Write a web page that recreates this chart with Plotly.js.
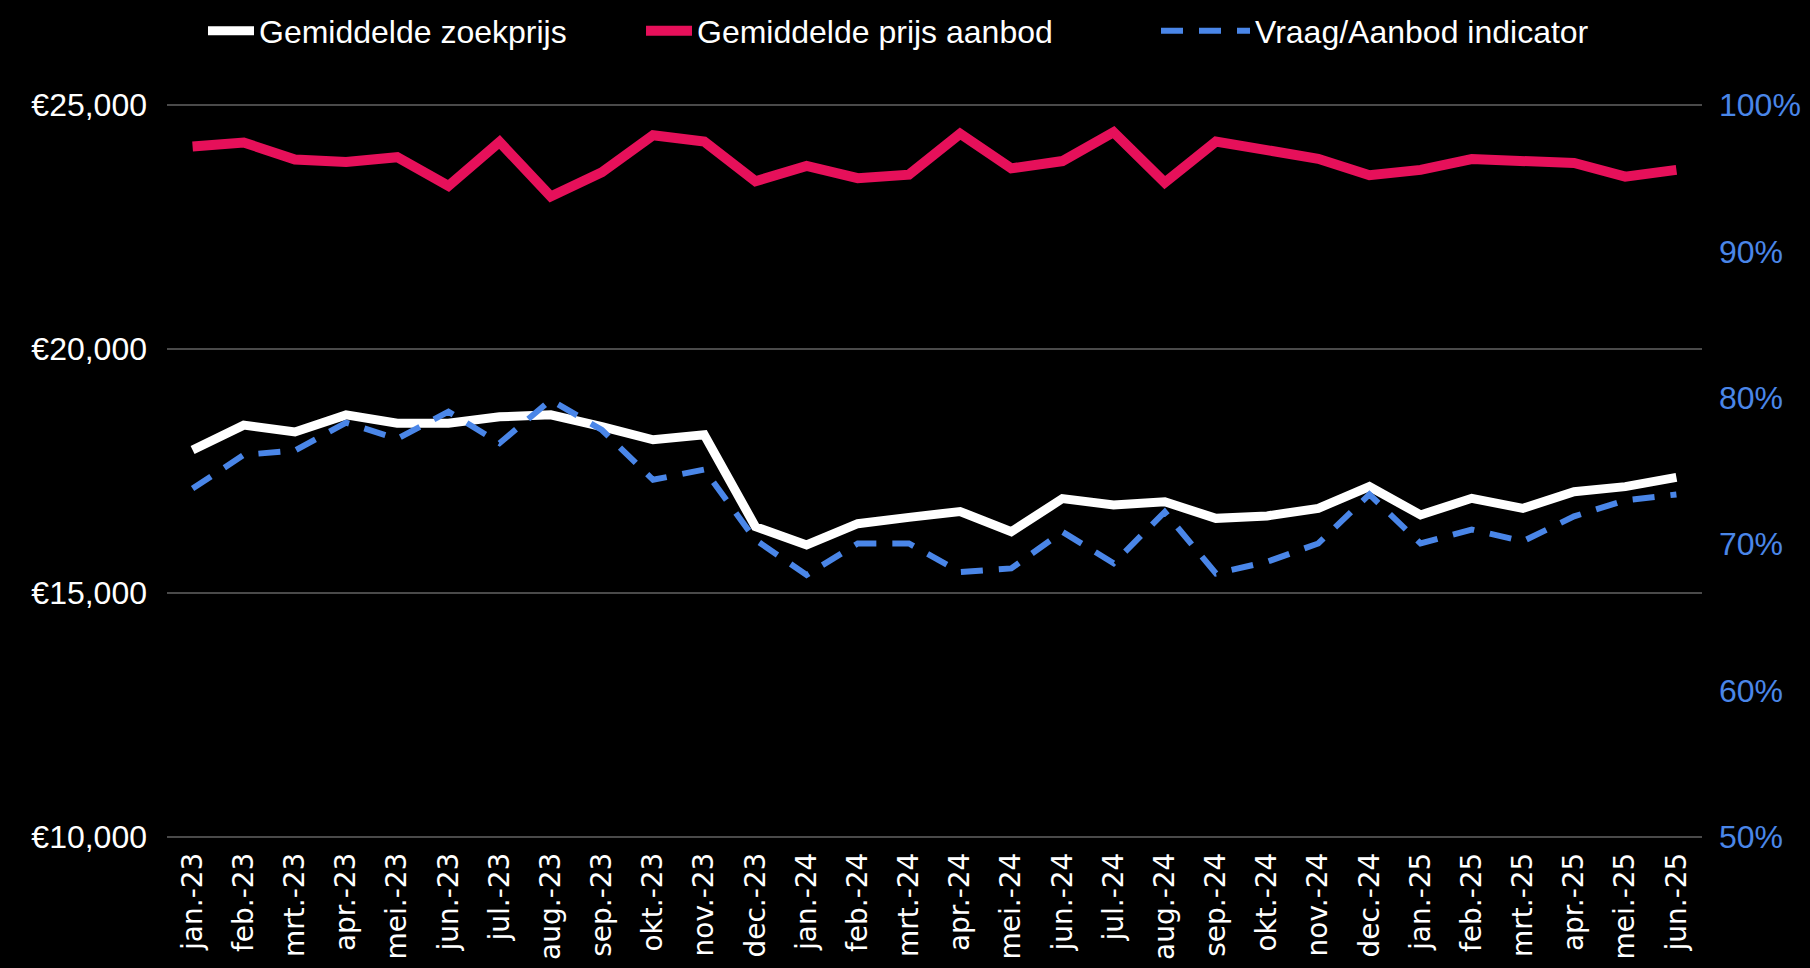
<!DOCTYPE html>
<html>
<head>
<meta charset="utf-8">
<script src="https://cdn.plot.ly/plotly-3.0.1.min.js"></script>
<style>
  html, body { margin: 0; padding: 0; background: #000; }
  #chart { width: 1810px; height: 968px; }
</style>
</head>
<body>
<div id="chart"></div>
<script>
const categories = [
  "jan.-23", "feb.-23", "mrt.-23", "apr.-23", "mei.-23", "jun.-23", "jul.-23", "aug.-23", "sep.-23", "okt.-23", "nov.-23", "dec.-23",
  "jan.-24", "feb.-24", "mrt.-24", "apr.-24", "mei.-24", "jun.-24", "jul.-24", "aug.-24", "sep.-24", "okt.-24", "nov.-24", "dec.-24",
  "jan.-25", "feb.-25", "mrt.-25", "apr.-25", "mei.-25", "jun.-25"
];

const gemiddeldeZoekprijs = [
  17930, 18440, 18300, 18650, 18480, 18480, 18610, 18650, 18410, 18140, 18240, 16360,
  15985, 16420, 16550, 16670, 16255, 16935, 16805, 16870, 16530, 16580, 16735, 17180,
  16600, 16940, 16735, 17075, 17180, 17370
];

const gemiddeldePrijsAanbod = [
  24150, 24230, 23880, 23830, 23930, 23340, 24240, 23125, 23620, 24380, 24250, 23435,
  23750, 23500, 23570, 24410, 23700, 23850, 24440, 23410, 24250, 24095, 23895, 23560,
  23670, 23890, 23830, 23810, 23530, 23670
];

const vraagAanbodIndicator = [
  73.8, 76.1, 76.4, 78.3, 77.2, 79.05, 76.9, 79.85, 77.8, 74.4, 75.1, 70.3,
  67.9, 70.05, 70.05, 68.1, 68.35, 70.85, 68.7, 72.2, 68.0, 68.8, 70.05, 73.4,
  70.05, 71.0, 70.2, 71.9, 73.0, 73.4
];

const leftTicks = [10000, 15000, 20000, 25000];
const leftTickText = leftTicks.map(v => "€" + v.toLocaleString("en-US"));
const rightTicks = [50, 60, 70, 80, 90, 100];
const rightTickText = rightTicks.map(v => v + "%");

const traces = [
  {
    x: categories, y: gemiddeldeZoekprijs, name: "Gemiddelde zoekprijs",
    type: "scatter", mode: "lines", yaxis: "y", legend: "legend",
    line: { color: "#ffffff", width: 9 }
  },
  {
    x: categories, y: gemiddeldePrijsAanbod, name: "Gemiddelde prijs aanbod",
    type: "scatter", mode: "lines", yaxis: "y", legend: "legend2",
    line: { color: "#e6105a", width: 10 }
  },
  {
    x: categories, y: vraagAanbodIndicator, name: "Vraag/Aanbod indicator",
    type: "scatter", mode: "lines", yaxis: "y2", legend: "legend3",
    line: { color: "#4a86e8", width: 6, dash: "22px,16px" }
  }
];

const legendFont = { family: "Liberation Sans, Arial, sans-serif", size: 32, color: "#ffffff" };
const legendBase = {
  orientation: "h", xanchor: "left", yref: "container", y: 0.968, yanchor: "middle",
  font: legendFont, bgcolor: "rgba(0,0,0,0)"
};

const layout = {
  width: 1810, height: 968,
  paper_bgcolor: "#000000", plot_bgcolor: "#000000",
  margin: { l: 167, r: 108, t: 102, b: 128, autoexpand: false },
  showlegend: true,
  legend: Object.assign({}, legendBase, { x: 0.02345, itemwidth: 46 }),
  legend2: Object.assign({}, legendBase, { x: 0.3088, itemwidth: 46 }),
  legend3: Object.assign({}, legendBase, { x: 0.6443, itemwidth: 89 }),
  xaxis: {
    type: "category",
    tickmode: "array", tickvals: categories, ticktext: categories,
    tickangle: -90,
    tickfont: { family: "DejaVu Sans, sans-serif", size: 28, color: "#ffffff" },
    showgrid: false, zeroline: false, showline: false, ticks: "",
    ticklabelstandoff: 6,
    range: [-0.5, 29.5]
  },
  yaxis: {
    range: [9940, 25060],
    tickmode: "array", tickvals: leftTicks, ticktext: leftTickText,
    tickfont: { family: "Liberation Sans, Arial, sans-serif", size: 32, color: "#ffffff" },
    showgrid: true, gridcolor: "#4a4a4a", gridwidth: 2,
    zeroline: false, showline: false, ticks: "",
    ticklabelstandoff: 19
  },
  yaxis2: {
    overlaying: "y", side: "right",
    range: [49.8, 100.2],
    tickmode: "array", tickvals: rightTicks, ticktext: rightTickText,
    tickfont: { family: "Liberation Sans, Arial, sans-serif", size: 32, color: "#4a86e8" },
    showgrid: false, zeroline: false, showline: false, ticks: "",
    ticklabelstandoff: 16
  }
};

Plotly.newPlot("chart", traces, layout, { displayModeBar: false, staticPlot: true });
</script>
</body>
</html>
